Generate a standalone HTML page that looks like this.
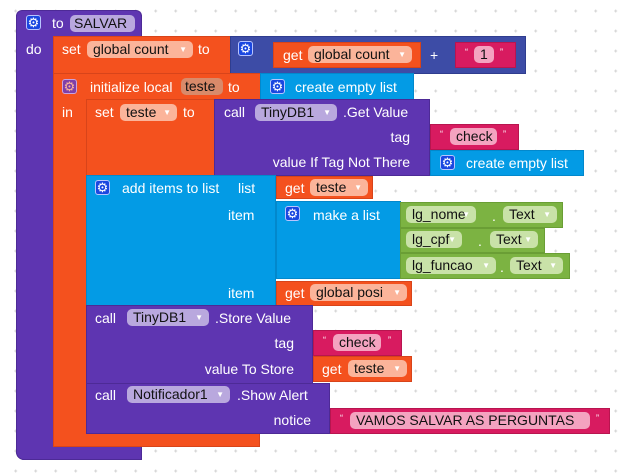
<!DOCTYPE html>
<html><head><meta charset="utf-8"><style>
*{margin:0;padding:0;box-sizing:border-box}
body{width:631px;height:474px;overflow:hidden;position:relative;background:#fff;font-family:"Liberation Sans",Arial,sans-serif;font-size:14px}
.g{position:absolute;left:0;top:0}
.b{position:absolute}
.t{position:absolute;color:#fff;white-space:nowrap;line-height:16px;height:16px}
.r{text-align:right}
.p{position:absolute;border-radius:5px;color:#111;white-space:nowrap;line-height:17px;height:17px;padding-left:6px}
.p .a{position:absolute;right:6px;top:0;font-size:8px;color:#fff}
.gear{position:absolute;width:15px;height:15px;border-radius:3px;background:#1a47e0;border:1px solid #b8c4ff;color:#fff;font-size:13px;line-height:13px;text-align:center}
.q{position:absolute;color:#fff;font-size:9px;line-height:10px}
.O{background:#f4511e;border:1px solid #d8441a}
.P{background:#5e35b1;border:1px solid #4d2a96}
.B{background:#3d4ca6;border:1px solid #2f3d8f}
.C{background:#039be5;border:1px solid #0288cc}
.M{background:#d81b60;border:1px solid #b8154f}
.G{background:#7cb342;border:1px solid #6a9e35}
.po{background:#fbb49a}
.pp{background:#b9a8de}
.pm{background:#f4a3c0}
.pg{background:#c9e2a8}
</style></head><body>
<svg class="g" width="631" height="474"><defs><pattern id="d" x="0" y="0" width="20" height="20" patternUnits="userSpaceOnUse"><path d="M15.7 9.5v3M14.2 11h3" stroke="#d4d4d4" stroke-width="1"/></pattern></defs><rect width="631" height="474" fill="url(#d)"/></svg>

<div class="b P" style="left:16px;top:10px;width:126px;height:27px;border-radius:6px 6px 0 0;border-bottom:none"></div>
<div class="b P" style="left:16px;top:36px;width:38px;height:424px;border-radius:0 0 0 8px;border-top:none"></div>
<div class="b P" style="left:16px;top:447px;width:126px;height:13px;border-radius:0 0 0 8px;border-top:none"></div>
<div class="gear" style="left:26px;top:15px">⚙</div>
<div class="t" style="left:52px;top:15px">to</div>
<div class="p pp" style="left:70px;top:15px;width:65px;padding-left:4px">SALVAR</div>
<div class="t" style="left:26px;top:41px">do</div>

<div class="b O" style="left:53px;top:36px;width:178px;height:38px"></div>
<div class="t" style="left:62px;top:41px">set</div>
<div class="p po" style="left:87px;top:41px;width:106px">global count<span class="a">▼</span></div>
<div class="t" style="left:198px;top:41px">to</div>
<div class="b B" style="left:230px;top:36px;width:296px;height:38px"></div>
<div class="gear" style="left:238px;top:41px">⚙</div>
<div class="b O" style="left:273px;top:42px;width:148px;height:26px"></div>
<div class="t" style="left:283px;top:47px">get</div>
<div class="p po" style="left:308px;top:46px;width:104px">global count<span class="a">▼</span></div>
<div class="t" style="left:430px;top:47px">+</div>
<div class="b M" style="left:455px;top:42px;width:61px;height:26px"></div>
<div class="q" style="left:465px;top:47px">“</div>
<div class="p pm" style="left:474px;top:46px;width:20px">1</div>
<div class="q" style="left:500px;top:47px">”</div>

<div class="b O" style="left:53px;top:73px;width:215px;height:27px;border-bottom:none"></div>
<div class="b O" style="left:53px;top:99px;width:34px;height:348px;border-top:none;border-bottom:none"></div>
<div class="b O" style="left:53px;top:433px;width:207px;height:14px;border-top:none"></div>
<div class="gear" style="left:62px;top:79px;background:#7e3fa8;border-color:#c9a2e0;color:#fbb49a">⚙</div>
<div class="t" style="left:90px;top:79px">initialize local</div>
<div class="p" style="left:181px;top:78px;width:42px;background:#d98a6a;padding-left:4px">teste</div>
<div class="t" style="left:228px;top:79px">to</div>
<div class="t" style="left:62px;top:104px">in</div>
<div class="b C" style="left:260px;top:73px;width:154px;height:27px"></div>
<div class="gear" style="left:270px;top:79px">⚙</div>
<div class="t" style="left:295px;top:79px">create empty list</div>

<div class="b O" style="left:86px;top:99px;width:129px;height:77px"></div>
<div class="t" style="left:95px;top:104px">set</div>
<div class="p po" style="left:120px;top:104px;width:57px">teste<span class="a">▼</span></div>
<div class="t" style="left:183px;top:104px">to</div>
<div class="b P" style="left:214px;top:99px;width:216px;height:77px"></div>
<div class="t" style="left:224px;top:104px">call</div>
<div class="p pp" style="left:255px;top:104px;width:82px">TinyDB1<span class="a">▼</span></div>
<div class="t" style="left:343px;top:104px">.Get Value</div>
<div class="t r" style="left:250px;top:129px;width:160px">tag</div>
<div class="t r" style="left:250px;top:154px;width:160px">value If Tag Not There</div>
<div class="b M" style="left:430px;top:124px;width:89px;height:26px"></div>
<div class="q" style="left:440px;top:129px">“</div>
<div class="p pm" style="left:450px;top:128px;width:47px">check</div>
<div class="q" style="left:503px;top:129px">”</div>
<div class="b C" style="left:430px;top:150px;width:154px;height:26px"></div>
<div class="gear" style="left:440px;top:155px">⚙</div>
<div class="t" style="left:466px;top:155px">create empty list</div>

<div class="b C" style="left:86px;top:175px;width:190px;height:131px"></div>
<div class="gear" style="left:95px;top:180px">⚙</div>
<div class="t" style="left:122px;top:180px">add items to list</div>
<div class="t" style="left:238px;top:180px">list</div>
<div class="t" style="left:228px;top:207px">item</div>
<div class="t" style="left:228px;top:285px">item</div>
<div class="b O" style="left:276px;top:176px;width:97px;height:23px"></div>
<div class="t" style="left:285px;top:180px">get</div>
<div class="p po" style="left:310px;top:179px;width:58px">teste<span class="a">▼</span></div>
<div class="b C" style="left:276px;top:201px;width:125px;height:78px"></div>
<div class="gear" style="left:285px;top:206px">⚙</div>
<div class="t" style="left:313px;top:207px">make a list</div>
<div class="b G" style="left:400px;top:202px;width:163px;height:26px"></div>
<div class="p pg" style="left:406px;top:206px;width:70px">lg_nome<span class="a">▼</span></div>
<div class="t" style="left:492px;top:208px">.</div>
<div class="p pg" style="left:503px;top:206px;width:54px">Text<span class="a">▼</span></div>
<div class="b G" style="left:400px;top:228px;width:145px;height:25px"></div>
<div class="p pg" style="left:406px;top:231px;width:56px">lg_cpf<span class="a">▼</span></div>
<div class="t" style="left:478px;top:233px">.</div>
<div class="p pg" style="left:490px;top:231px;width:48px">Text<span class="a">▼</span></div>
<div class="b G" style="left:400px;top:253px;width:170px;height:26px"></div>
<div class="p pg" style="left:406px;top:257px;width:90px">lg_funcao<span class="a">▼</span></div>
<div class="t" style="left:500px;top:259px">.</div>
<div class="p pg" style="left:510px;top:257px;width:53px">Text<span class="a">▼</span></div>
<div class="b O" style="left:276px;top:281px;width:136px;height:25px"></div>
<div class="t" style="left:285px;top:285px">get</div>
<div class="p po" style="left:310px;top:284px;width:97px">global posi<span class="a">▼</span></div>

<div class="b P" style="left:86px;top:305px;width:227px;height:79px"></div>
<div class="t" style="left:95px;top:310px">call</div>
<div class="p pp" style="left:127px;top:309px;width:82px">TinyDB1<span class="a">▼</span></div>
<div class="t" style="left:215px;top:310px">.Store Value</div>
<div class="t r" style="left:150px;top:335px;width:144px">tag</div>
<div class="t r" style="left:150px;top:361px;width:144px">value To Store</div>
<div class="b M" style="left:313px;top:330px;width:89px;height:26px"></div>
<div class="q" style="left:323px;top:335px">“</div>
<div class="p pm" style="left:333px;top:334px;width:48px">check</div>
<div class="q" style="left:388px;top:335px">”</div>
<div class="b O" style="left:313px;top:356px;width:99px;height:26px"></div>
<div class="t" style="left:322px;top:361px">get</div>
<div class="p po" style="left:348px;top:360px;width:59px">teste<span class="a">▼</span></div>

<div class="b P" style="left:86px;top:383px;width:244px;height:51px"></div>
<div class="t" style="left:95px;top:387px">call</div>
<div class="p pp" style="left:127px;top:386px;width:103px">Notificador1<span class="a">▼</span></div>
<div class="t" style="left:237px;top:387px">.Show Alert</div>
<div class="t r" style="left:200px;top:412px;width:111px">notice</div>
<div class="b M" style="left:330px;top:408px;width:280px;height:26px"></div>
<div class="q" style="left:340px;top:413px">“</div>
<div class="p pm" style="left:350px;top:412px;width:240px">VAMOS SALVAR AS PERGUNTAS</div>
<div class="q" style="left:596px;top:413px">”</div>
</body></html>
